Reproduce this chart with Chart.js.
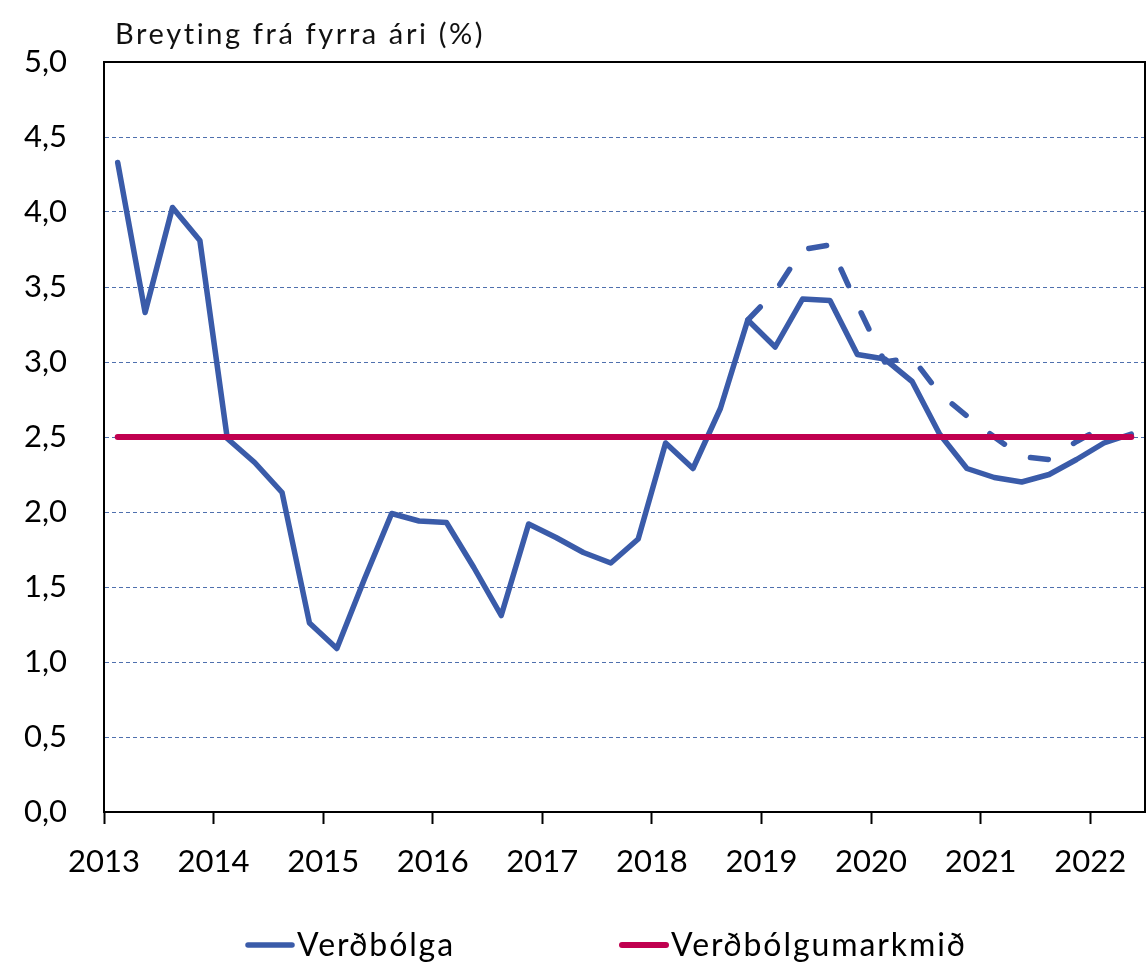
<!DOCTYPE html>
<html lang="is">
<head>
<meta charset="UTF-8">
<title>Verðbólga og verðbólgumarkmið</title>
<script src="https://cdn.jsdelivr.net/npm/chart.js"></script>
<style>
  html, body { margin: 0; padding: 0; background: #fff; }
  canvas { display: block; }
</style>
</head>
<body>
<canvas id="chart" width="1148" height="963"></canvas>
<script>
// ársfjórðungar, 2013 K1 - 2022 K2
const quarters = [
  '2013Q1', '2013Q2', '2013Q3', '2013Q4', '2014Q1', '2014Q2', '2014Q3', '2014Q4',
  '2015Q1', '2015Q2', '2015Q3', '2015Q4', '2016Q1', '2016Q2', '2016Q3', '2016Q4',
  '2017Q1', '2017Q2', '2017Q3', '2017Q4', '2018Q1', '2018Q2', '2018Q3', '2018Q4',
  '2019Q1', '2019Q2', '2019Q3', '2019Q4', '2020Q1', '2020Q2', '2020Q3', '2020Q4',
  '2021Q1', '2021Q2', '2021Q3', '2021Q4', '2022Q1', '2022Q2'
];
const years = [2013, 2014, 2015, 2016, 2017, 2018, 2019, 2020, 2021, 2022];
const yTicks = [0, 0.5, 1, 1.5, 2, 2.5, 3, 3.5, 4, 4.5, 5];

const inflation = [
  4.33, 3.33, 4.03, 3.81, 2.49, 2.33, 2.13, 1.26,
  1.09, 1.55, 1.99, 1.94, 1.93, 1.63, 1.31, 1.92,
  1.83, 1.73, 1.66, 1.82, 2.46, 2.29, 2.69, 3.28,
  3.10, 3.42, 3.41, 3.05, 3.02, 2.87, 2.52, 2.29,
  2.23, 2.20, 2.25, 2.35, 2.46, 2.52
];
// fyrri spá (brotin lína)
const inflationPrev = [
  null, null, null, null, null, null, null, null,
  null, null, null, null, null, null, null, null,
  null, null, null, null, null, null, null, 3.28,
  3.47, 3.75, 3.78, 3.38, 3.00, 3.03, 2.79, 2.64,
  2.50, 2.37, 2.35, 2.47, 2.57, null
];
const target = [
  2.5, 2.5, 2.5, 2.5, 2.5, 2.5, 2.5, 2.5, 2.5, 2.5, 2.5, 2.5, 2.5, 2.5, 2.5, 2.5,
  2.5, 2.5, 2.5, 2.5, 2.5, 2.5, 2.5, 2.5, 2.5, 2.5, 2.5, 2.5, 2.5, 2.5, 2.5, 2.5,
  2.5, 2.5, 2.5, 2.5, 2.5, 2.5
];

const BLUE = '#3A5BA9';
const RED = '#C0004F';
const GRID = '#4F70AE';
const FONT = 'Lato, "Open Sans", sans-serif';

// miðja ársfjórðungs sem ártal
function qx(label) {
  return Number(label.slice(0, 4)) + (Number(label.slice(5)) - 0.5) / 4;
}
function pairs(values) {
  return values.map((v, i) => ({ x: qx(quarters[i]), y: v }));
}

// teygir texta í tiltekna breidd með bili milli stafa
function spacedText(ctx, text, x, y, width) {
  ctx.letterSpacing = '0px';
  const w = ctx.measureText(text).width;
  const gap = Math.max(0, (width - w) / (text.length - 1));
  ctx.letterSpacing = gap.toFixed(2) + 'px';
  ctx.fillText(text, x, y);
  ctx.letterSpacing = '0px';
}

const framePlugin = {
  id: 'frame',
  afterDraw(chart) {
    const { ctx, chartArea: a } = chart;
    ctx.save();
    ctx.strokeStyle = '#000';
    ctx.lineWidth = 2;
    ctx.beginPath();
    ctx.moveTo(a.left, a.top);
    ctx.lineTo(a.right, a.top);
    ctx.lineTo(a.right, a.bottom);
    ctx.stroke();
    ctx.restore();
  }
};

const headPlugin = {
  id: 'head',
  afterDraw(chart, args, opts) {
    const ctx = chart.ctx;
    ctx.save();
    ctx.font = '29px ' + FONT;
    ctx.fillStyle = '#111';
    ctx.textBaseline = 'alphabetic';
    spacedText(ctx, opts.text, chart.chartArea.left + 11, 44, opts.width);
    ctx.restore();
  }
};

const legendPlugin = {
  id: 'lineLegend',
  afterDraw(chart, args, opts) {
    const ctx = chart.ctx;
    ctx.save();
    ctx.font = '32px ' + FONT;
    ctx.textBaseline = 'middle';
    opts.items.forEach(it => {
      const ds = chart.data.datasets[it.index];
      ctx.strokeStyle = ds.borderColor;
      ctx.lineWidth = ds.borderWidth;
      ctx.lineCap = 'round';
      ctx.beginPath();
      ctx.moveTo(it.x + 3, opts.y);
      ctx.lineTo(it.x + 47, opts.y);
      ctx.stroke();
      ctx.fillStyle = '#000';
      spacedText(ctx, ds.label, it.x + 52, opts.y + 1, it.w);
    });
    ctx.restore();
  }
};

new Chart(document.getElementById('chart'), {
  type: 'line',
  data: {
    datasets: [
      { label: 'Verðbólga', data: pairs(inflation), borderColor: BLUE, borderWidth: 5.5, order: 2 },
      { label: 'Fyrri spá', data: pairs(inflationPrev), borderColor: BLUE, borderWidth: 5.5, borderDash: [18, 30], order: 3 },
      { label: 'Verðbólgumarkmið', data: pairs(target), borderColor: RED, borderWidth: 6, order: 1 }
    ]
  },
  options: {
    responsive: false,
    animation: false,
    events: [],
    elements: {
      point: { radius: 0 },
      line: { tension: 0, borderCapStyle: 'round', borderJoinStyle: 'round' }
    },
    layout: { padding: { top: 62, right: 3, left: 0, bottom: 0 } },
    plugins: {
      legend: { display: false },
      tooltip: { enabled: false },
      head: { text: 'Breyting frá fyrra ári (%)', width: 368 },
      lineLegend: { y: 945, items: [{ index: 0, x: 245, w: 156 }, { index: 2, x: 619, w: 294 }] }
    },
    scales: {
      x: {
        type: 'linear',
        min: 2013,
        max: 2022.5,
        afterBuildTicks: s => { s.ticks = years.map(v => ({ value: v })); },
        afterFit: s => { s.height = 151; },
        grid: { drawOnChartArea: false, drawTicks: true, tickLength: 12, tickColor: '#000', tickWidth: 2 },
        border: { color: '#000', width: 2 },
        ticks: {
          color: '#000', font: { family: FONT, size: 31 }, padding: 19,
          maxRotation: 0, autoSkip: false, callback: v => String(v)
        }
      },
      y: {
        min: 0,
        max: 5,
        afterBuildTicks: s => { s.ticks = yTicks.map(v => ({ value: v })); },
        afterFit: s => { s.width = 104; },
        grid: {
          color: c => (c.tick && (c.tick.value === 0 || c.tick.value === 5)) ? 'rgba(0,0,0,0)' : GRID,
          lineWidth: 1, drawTicks: false
        },
        border: { color: '#000', width: 2, dash: [4, 3] },
        ticks: {
          color: '#000', font: { family: FONT, size: 31 }, padding: 37,
          callback: v => v.toFixed(1).replace('.', ',')
        }
      }
    }
  },
  plugins: [framePlugin, headPlugin, legendPlugin]
});
</script>
</body>
</html>
